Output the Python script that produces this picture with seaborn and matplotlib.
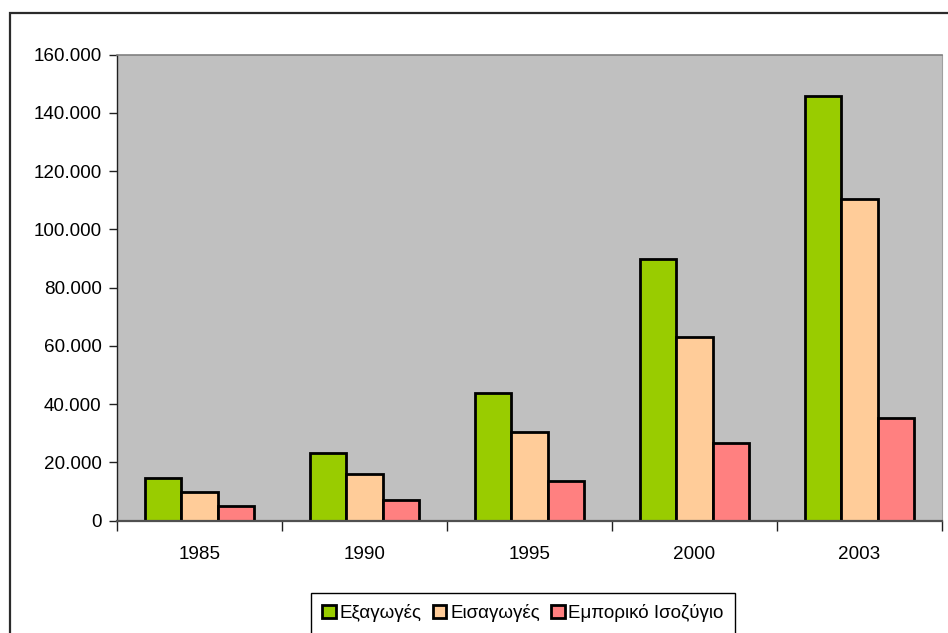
import matplotlib
matplotlib.use("Agg")
import matplotlib.pyplot as plt
from matplotlib import font_manager as fm
from matplotlib.ticker import FuncFormatter, FixedLocator, NullFormatter
from matplotlib.patches import Rectangle
import seaborn as sns
import pandas as pd

# Data (values in thousands)
years = ["1985", "1990", "1995", "2000", "2003"]
series_names = ["Εξαγωγές", "Εισαγωγές", "Εμπορικό Ισοζύγιο"]
exports = [14.8, 23.2, 44.0, 89.7, 145.9]
imports = [9.7, 16.0, 30.5, 63.0, 110.6]
balance = [5.0, 7.0, 13.7, 26.6, 35.2]
y_ticks = [0, 20, 40, 60, 80, 100, 120, 140, 160]

colors = ["#99CC00", "#FFCC99", "#FF8080"]

df = pd.DataFrame({
    "year": years * 3,
    "series": [series_names[0]] * 5 + [series_names[1]] * 5 + [series_names[2]] * 5,
    "value": [v * 1000 for v in exports + imports + balance],
})

sns.set_theme(style="white")
installed = {f.name for f in fm.fontManager.ttflist}
if "Liberation Sans Narrow" in installed:
    tick_family, tick_size = "Liberation Sans Narrow", 15.5
else:
    tick_family, tick_size = "Liberation Sans", 13.6
plt.rcParams["font.family"] = ["Liberation Sans", "DejaVu Sans"]

W, H = 948, 633
fig = plt.figure(figsize=(W / 100, H / 100), dpi=100)
fig.patch.set_facecolor("white")

# outer frame
fig.add_artist(Rectangle((10 / W, -0.05), 1.2, 1 - 13 / H + 0.05,
                         transform=fig.transFigure, fill=False,
                         edgecolor="#2b2b2b", linewidth=1.6))

ax = fig.add_axes([117 / W, 1 - 520.7 / H, (942 - 117) / W, (520.7 - 54.7) / H])
ax.set_facecolor("#C0C0C0")

sns.barplot(data=df, x="year", y="value", hue="series", order=years,
            hue_order=series_names, palette=colors, width=0.664,
            edgecolor="black", linewidth=2.0, saturation=1, ax=ax,
            legend=True)

ax.set_xlim(-0.5, 4.5)
ax.set_ylim(0, 160000)
ax.set_xlabel("")
ax.set_ylabel("")

# y axis
ax.yaxis.set_major_locator(FixedLocator([v * 1000 for v in y_ticks]))
ax.yaxis.set_major_formatter(FuncFormatter(lambda v, p: f"{int(v):,}".replace(",", ".")))
ax.tick_params(axis="y", which="major", direction="out", length=6, width=1,
               color="#202020", pad=5, left=True, labelsize=tick_size)

# x axis: tick marks between categories, labels centred
ax.xaxis.set_major_locator(FixedLocator([-0.5, 0.5, 1.5, 2.5, 3.5, 4.5]))
ax.xaxis.set_major_formatter(NullFormatter())
ax.xaxis.set_minor_locator(FixedLocator(range(len(years))))
ax.set_xticklabels(years, minor=True)
ax.tick_params(axis="x", which="minor", length=0, pad=18, labelsize=tick_size)
ax.tick_params(axis="x", which="major", direction="out", length=7, width=1,
               color="#202020", bottom=True)

for lab in ax.get_yticklabels() + ax.get_xticklabels(minor=True):
    lab.set_family([tick_family, "Liberation Sans", "DejaVu Sans"])
    lab.set_color("black")

ax.spines["top"].set_color("#808080")
ax.spines["top"].set_linewidth(1.2)
ax.spines["right"].set_color("#a0a0a0")
ax.spines["right"].set_linewidth(0.8)
ax.spines["left"].set_color("#202020")
ax.spines["left"].set_linewidth(1.0)
ax.spines["bottom"].set_color("#505050")
ax.spines["bottom"].set_linewidth(1.6)

# legend at the bottom
handles, labels = ax.get_legend_handles_labels()
ax.get_legend().remove()
leg = fig.legend(handles, labels, loc="upper center",
                 bbox_to_anchor=(523 / W, 1 - 593 / H),
                 bbox_transform=fig.transFigure, ncol=3, frameon=True,
                 fancybox=False, edgecolor="black", framealpha=1,
                 fontsize=13.5, handlelength=0.72, handleheight=0.72,
                 handletextpad=0.2, columnspacing=0.6, borderpad=0.6,
                 borderaxespad=0)
leg.get_frame().set_linewidth(1.0)
for t in leg.get_texts():
    t.set_color("black")

fig.savefig("out.png", dpi=100, facecolor="white")
